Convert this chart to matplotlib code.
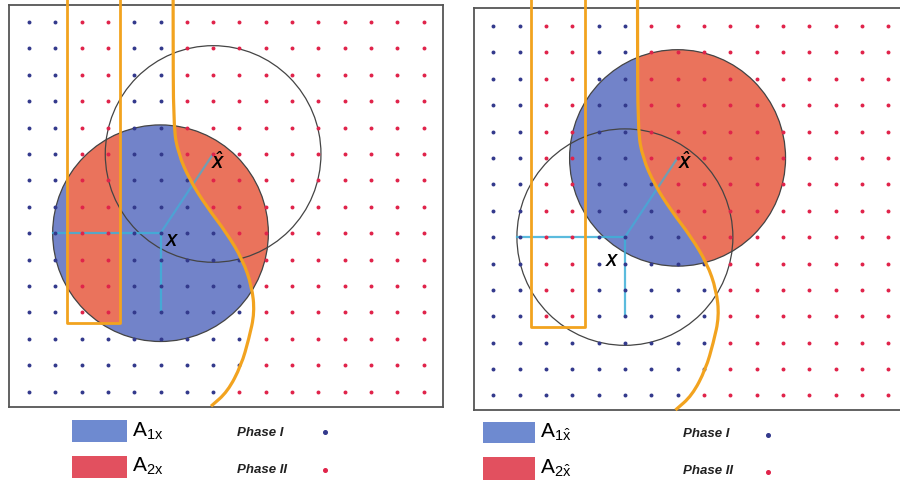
import matplotlib.pyplot as plt
import numpy as np
from matplotlib.patches import Circle, PathPatch, Rectangle
from matplotlib.path import Path

plt.rcParams['font.family'] = ['Liberation Sans', 'DejaVu Sans']
plt.rcParams['mathtext.fontset'] = 'custom'
plt.rcParams['mathtext.rm'] = 'Liberation Sans'
plt.rcParams['mathtext.it'] = 'Liberation Sans:italic'
plt.rcParams['mathtext.bf'] = 'Liberation Sans:italic:bold'
plt.rcParams['mathtext.default'] = 'regular'

# grid of sample points (columns left->right, rows top->bottom)
n_cols = 16
n_rows = 15
# first column of phase II in each row
first_red = [6, 6, 6, 6, 6, 6, 7, 7, 8, 9, 9, 9, 9, 9, 8]
# columns inside the orange strip, phase II down to this row
strip_cols = [2, 3]
strip_last_row = 11

# orange interface (column, row)
curve_col = [5.48, 5.48, 5.49, 5.68, 6.12, 6.76, 7.52, 8.12, 8.47, 8.58, 8.36, 8.07, 7.55, 6.92]
curve_row = [-1.0, 0.0, 3.96, 5.0, 6.0, 7.0, 8.0, 9.0, 10.0, 11.0, 12.0, 13.0, 14.0, 14.55]

# orange strip
strip_left, strip_right = 1.45, 3.47
strip_top, strip_bottom = -1.0, 11.4

# the two circle centres and the common radius
c_x = (5, 8)
c_xhat = (7, 5)
radius = 4.1
drop = 3

# colours
blue_fill = '#7283c9'
red_fill = '#ea735c'
blue_dot = '#33398c'
red_dot = '#e0234a'
orange = '#f2a31f'
cyan = '#3eb0d8'
edge = '#444444'

fig = plt.figure(figsize=(9, 4.82), dpi=100)


def fx(px):
    return px / 900


def fy(py):
    return 1 - py / 482


def smooth_verts():
    # quadratic bezier pieces through the midpoints of the read points
    pts = list(zip(curve_col, curve_row))
    verts = [pts[0]]
    codes = [Path.MOVETO]
    mids = [((a[0] + b[0]) / 2, (a[1] + b[1]) / 2) for a, b in zip(pts[:-1], pts[1:])]
    verts.append(mids[0])
    codes.append(Path.LINETO)
    for i in range(1, len(pts) - 1):
        verts += [pts[i], mids[i]]
        codes += [Path.CURVE3, Path.CURVE3]
    verts.append(pts[-1])
    codes.append(Path.LINETO)
    return verts, codes


def panel(rect, xlim, ylim, filled, empty, strip_red, x_pos, xhat_pos):
    ax = fig.add_axes(rect)
    ax.set_xlim(*xlim)
    ax.set_ylim(*ylim)
    ax.set_xticks([])
    ax.set_yticks([])
    for s in ax.spines.values():
        s.set_color('#555555')
        s.set_linewidth(1.3)

    verts, codes = smooth_verts()

    # filled circle: blue, red part right of the interface
    circ = Circle(filled, radius, facecolor=blue_fill, edgecolor='none', zorder=1)
    ax.add_patch(circ)
    rv = verts + [(30, curve_row[-1]), (30, curve_row[0]), verts[0]]
    rc = codes + [Path.LINETO, Path.LINETO, Path.CLOSEPOLY]
    red_part = PathPatch(Path(rv, rc), facecolor=red_fill, edgecolor='none', zorder=1.1)
    ax.add_patch(red_part)
    red_part.set_clip_path(circ)
    if strip_red:
        sr = Rectangle((strip_left, strip_top), strip_right - strip_left, strip_bottom - strip_top,
                       facecolor=red_fill, edgecolor='none', zorder=1.1)
        ax.add_patch(sr)
        sr.set_clip_path(circ)
    ax.add_patch(Circle(filled, radius, facecolor='none', edgecolor=edge, lw=0.9, zorder=2))
    ax.add_patch(Circle(empty, radius, facecolor='none', edgecolor=edge, lw=0.9, zorder=2))

    # cyan construction lines from the x centre
    cx, cy = c_x
    ax.plot([cx - radius, cx], [cy, cy], color=cyan, lw=1.6, alpha=0.85, zorder=3)
    ax.plot([cx, cx], [cy, cy + drop], color=cyan, lw=1.6, alpha=0.85, zorder=3)
    ax.plot([cx, c_xhat[0]], [cy, c_xhat[1]], color=cyan, lw=1.6, alpha=0.7, zorder=3)

    # dots
    bx, by, rx, ry = [], [], [], []
    for r in range(n_rows):
        for c in range(n_cols):
            if c >= first_red[r] or (c in strip_cols and r <= strip_last_row):
                rx.append(c)
                ry.append(r)
            else:
                bx.append(c)
                by.append(r)
    ax.scatter(bx, by, s=8, color=blue_dot, zorder=4, linewidths=0)
    ax.scatter(rx, ry, s=8, color=red_dot, zorder=4, linewidths=0)

    # orange interface and strip
    ax.add_patch(PathPatch(Path(verts, codes), facecolor='none', edgecolor=orange, lw=2.3,
                           zorder=5, clip_on=False))
    ax.plot([strip_left, strip_left, strip_right, strip_right],
            [strip_top, strip_bottom, strip_bottom, strip_top],
            color=orange, lw=2.0, zorder=5, clip_on=False)

    ax.text(x_pos[0], x_pos[1], 'X', fontsize=12, fontweight='bold', style='italic',
            ha='center', va='center', zorder=6)
    ax.text(xhat_pos[0], xhat_pos[1], r'$\mathbf{\hat{X}}$', fontsize=12,
            ha='center', va='center', zorder=6)
    return ax


panel([fx(9), fy(407), 434 / 900, 402 / 482], (-0.76, 15.74), (14.58, -0.64),
      c_x, c_xhat, True, (5.42, 8.32), (7.2, 5.3))
panel([fx(474), fy(410), 434 / 900, 402 / 482], (-0.73, 15.75), (14.55, -0.68),
      c_xhat, c_x, False, (4.5, 8.93), (7.28, 5.15))

# legends below each panel
legend_boxes = [
    (72, 55, [(420, 442), (456, 478)], 132, [r'A$_{1x}$', r'A$_{2x}$'], [437, 472], 237, [436, 473], 325, [432, 470]),
    (483, 52, [(422, 443), (457, 480)], 540, [r'A$_{1\hat{x}}$', r'A$_{2\hat{x}}$'], [438, 474], 683, [437, 474], 768, [435, 472]),
]
legend_cols = ['#6e8ad0', '#e2505f']
phase_names = ['Phase I', 'Phase II']
dot_cols = [blue_dot, red_dot]
for x0, w, ys, ax_txt, labels, base_a, px_txt, base_p, dot_x, dot_y in legend_boxes:
    for k in range(2):
        y0, y1 = ys[k]
        fig.add_artist(Rectangle((fx(x0), fy(y1)), w / 900, (y1 - y0) / 482,
                                 transform=fig.transFigure, facecolor=legend_cols[k],
                                 edgecolor='none'))
        fig.text(fx(ax_txt), fy(base_a[k]), labels[k], fontsize=15, va='baseline', ha='left')
        fig.text(fx(px_txt), fy(base_p[k]), phase_names[k], fontsize=9.5, fontweight='bold',
                 style='italic', va='baseline', ha='left', color='#222222')
        fig.add_artist(plt.Line2D([fx(dot_x)], [fy(dot_y[k])], marker='o', markersize=2.6,
                                  color=dot_cols[k], transform=fig.transFigure, linestyle='none'))

fig.savefig('out.png', dpi=100)
